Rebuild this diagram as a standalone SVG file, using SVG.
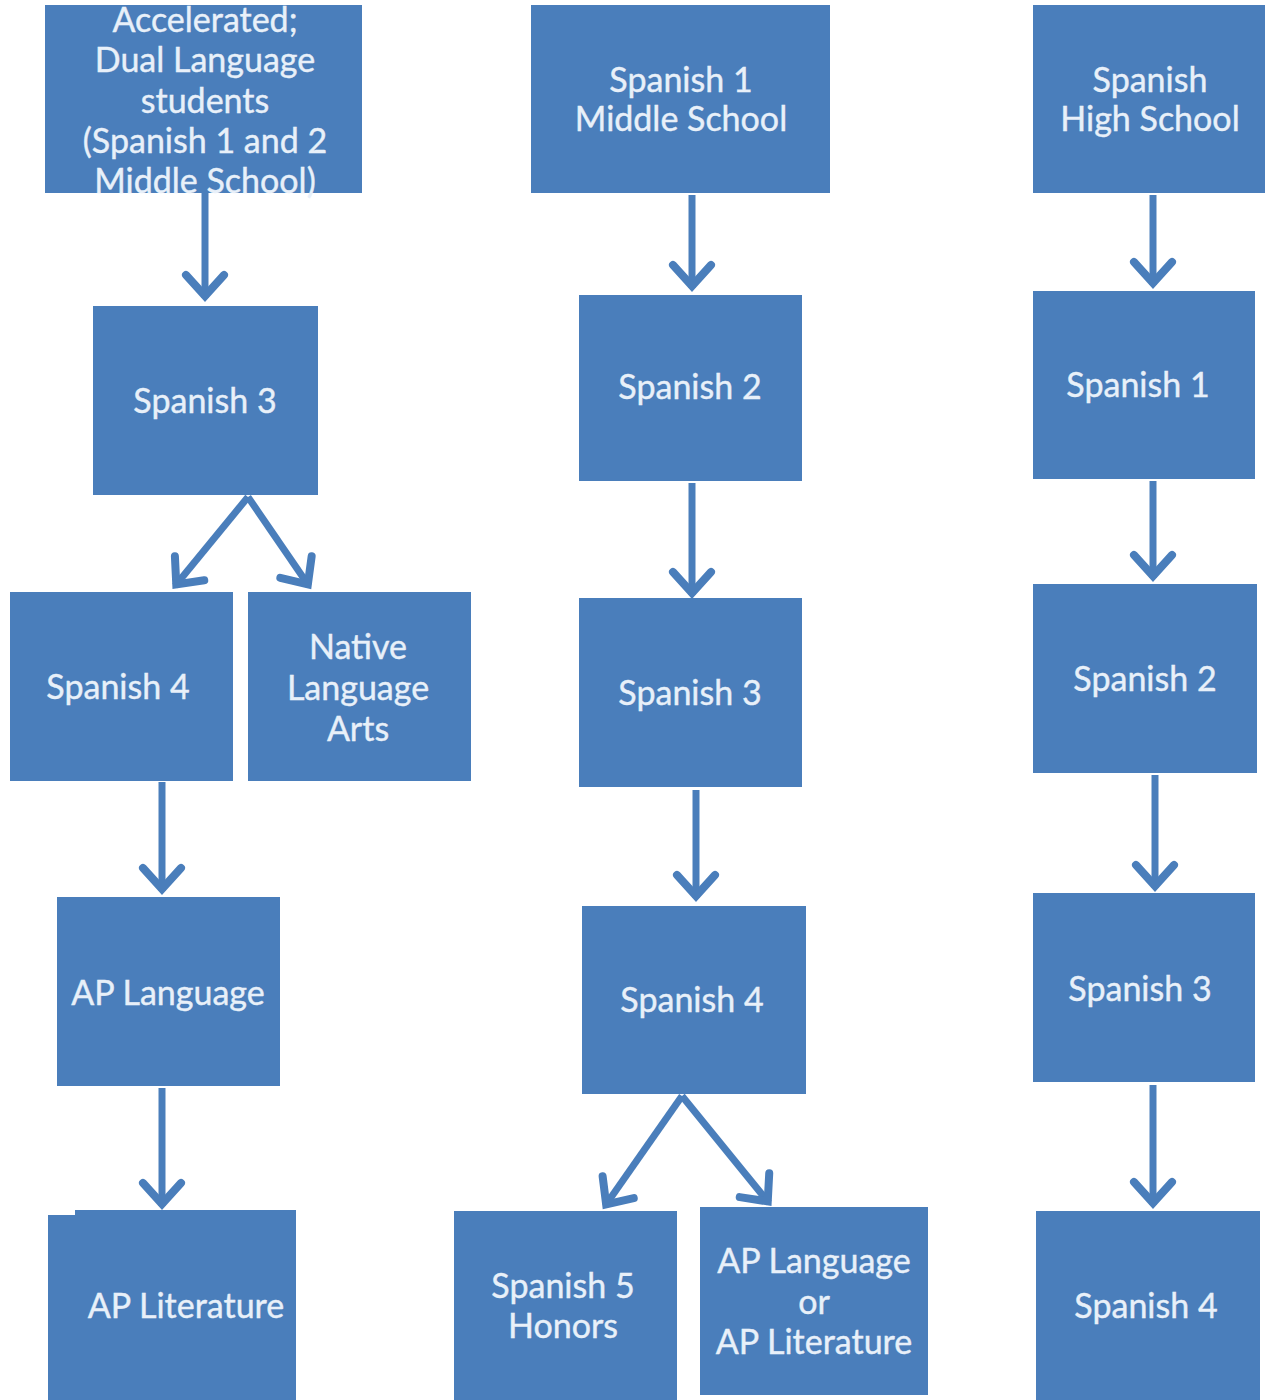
<svg xmlns="http://www.w3.org/2000/svg" width="1265" height="1400" viewBox="0 0 1265 1400">
<style>
.box{fill:#4a7ebb}
.lbl{font-family:Lato,"Open Sans","Liberation Sans",sans-serif;font-size:34px;fill:#e8f0f9;text-anchor:middle;dominant-baseline:central;stroke:#e8f0f9;stroke-width:0.4}
.conn{stroke:#4a7ebb;stroke-width:7;fill:none;marker-end:url(#chev)}
</style>
<defs>
<marker id="chev" markerUnits="userSpaceOnUse" markerWidth="40" markerHeight="50" refX="2" refY="0" viewBox="-30 -25 40 50" orient="auto" overflow="visible">
<path d="M-21,-19 L0,0 L-21,19" fill="none" stroke="#4a7ebb" stroke-width="8" stroke-linecap="round" stroke-linejoin="miter"/>
</marker>
</defs>
<rect width="1265" height="1400" fill="#ffffff"/>
<g id="connectors">
<path class="conn" d="M205,193 L205,298"/>
<path class="conn" d="M248,497 L175,586"/>
<path class="conn" d="M248,497 L309,586"/>
<path class="conn" d="M162,782 L162,891"/>
<path class="conn" d="M162,1088 L162,1206"/>
<path class="conn" d="M692,195 L692,288"/>
<path class="conn" d="M692,483 L692,595"/>
<path class="conn" d="M696,790 L696,898"/>
<path class="conn" d="M682,1096 L605,1206"/>
<path class="conn" d="M682,1096 L769,1203"/>
<path class="conn" d="M1153,195 L1153,285"/>
<path class="conn" d="M1153,481 L1153,578"/>
<path class="conn" d="M1155,775 L1155,888"/>
<path class="conn" d="M1153,1085 L1153,1205"/>
</g>
<g id="n-accel">
<rect class="box" x="45" y="5" width="317" height="188"/>
<text class="lbl"><tspan x="205" y="18">Accelerated;</tspan><tspan x="205" y="58">Dual Language</tspan><tspan x="205" y="99">students</tspan><tspan x="205" y="139">(Spanish 1 and 2</tspan><tspan x="205" y="179">Middle School)</tspan></text>
</g>
<g id="n-c1-sp3">
<rect class="box" x="93" y="306" width="225" height="189"/>
<text class="lbl" x="205" y="399">Spanish 3</text>
</g>
<g id="n-c1-sp4">
<rect class="box" x="10" y="592" width="223" height="189"/>
<text class="lbl" x="118" y="685">Spanish 4</text>
</g>
<g id="n-nla">
<rect class="box" x="248" y="592" width="223" height="189"/>
<text class="lbl"><tspan x="358" y="645">Native</tspan><tspan x="358" y="686">Language</tspan><tspan x="358" y="727">Arts</tspan></text>
</g>
<g id="n-aplang">
<rect class="box" x="57" y="897" width="223" height="189"/>
<text class="lbl" x="168" y="991">AP Language</text>
</g>
<g id="n-aplit">
<rect class="box" x="75" y="1210" width="221" height="190"/>
<rect class="box" x="48" y="1215" width="30" height="185"/>
<text class="lbl" x="186" y="1304">AP Literature</text>
</g>
<g id="n-ms1">
<rect class="box" x="531" y="5" width="299" height="188"/>
<text class="lbl"><tspan x="681" y="78">Spanish 1</tspan><tspan x="681" y="117">Middle School</tspan></text>
</g>
<g id="n-c2-sp2">
<rect class="box" x="579" y="295" width="223" height="186"/>
<text class="lbl" x="690" y="385">Spanish 2</text>
</g>
<g id="n-c2-sp3">
<rect class="box" x="579" y="598" width="223" height="189"/>
<text class="lbl" x="690" y="691">Spanish 3</text>
</g>
<g id="n-c2-sp4">
<rect class="box" x="582" y="906" width="224" height="188"/>
<text class="lbl" x="692" y="998">Spanish 4</text>
</g>
<g id="n-sp5h">
<rect class="box" x="454" y="1211" width="223" height="189"/>
<text class="lbl"><tspan x="563" y="1284">Spanish 5</tspan><tspan x="563" y="1324">Honors</tspan></text>
</g>
<g id="n-aplangorlit">
<rect class="box" x="700" y="1207" width="228" height="188"/>
<text class="lbl"><tspan x="814" y="1259">AP Language</tspan><tspan x="814" y="1300">or</tspan><tspan x="814" y="1340">AP Literature</tspan></text>
</g>
<g id="n-hs">
<rect class="box" x="1033" y="5" width="232" height="188"/>
<text class="lbl"><tspan x="1150" y="78">Spanish</tspan><tspan x="1150" y="117">High School</tspan></text>
</g>
<g id="n-c3-sp1">
<rect class="box" x="1033" y="291" width="222" height="188"/>
<text class="lbl" x="1138" y="383">Spanish 1</text>
</g>
<g id="n-c3-sp2">
<rect class="box" x="1033" y="584" width="224" height="189"/>
<text class="lbl" x="1145" y="677">Spanish 2</text>
</g>
<g id="n-c3-sp3">
<rect class="box" x="1033" y="893" width="222" height="189"/>
<text class="lbl" x="1140" y="987">Spanish 3</text>
</g>
<g id="n-c3-sp4">
<rect class="box" x="1036" y="1211" width="224" height="189"/>
<text class="lbl" x="1146" y="1304">Spanish 4</text>
</g>
</svg>
